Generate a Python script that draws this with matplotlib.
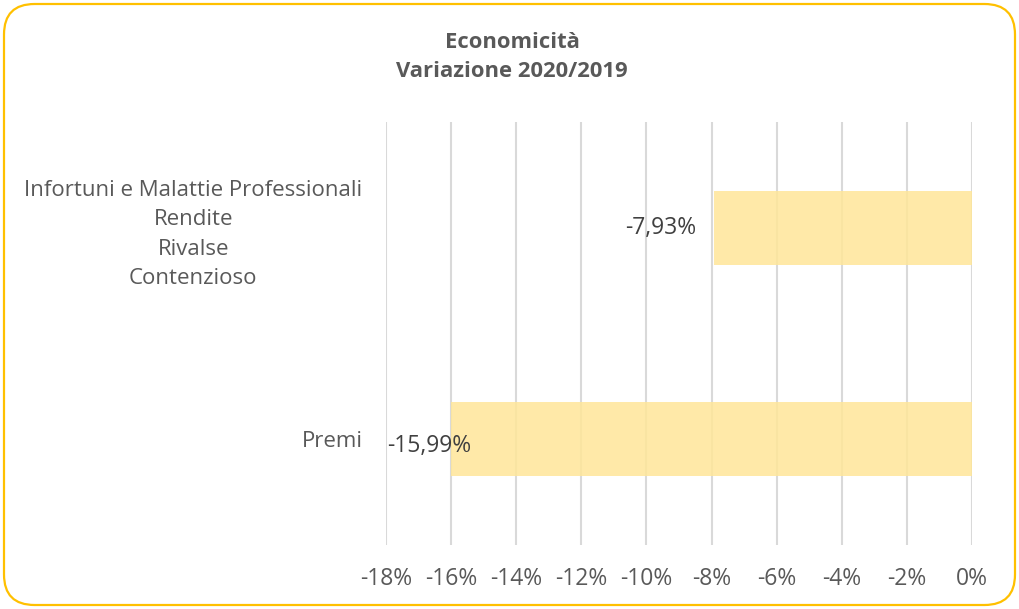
import matplotlib
matplotlib.use("Agg")
import matplotlib.pyplot as plt
from matplotlib.patches import FancyBboxPatch
from matplotlib.ticker import FuncFormatter

plt.rcParams['font.family'] = ['Open Sans', 'DejaVu Sans']

categories = ["Premi", "Infortuni e Malattie Professionali\nRendite\nRivalse\nContenzioso"]
values = [-15.99, -7.93]
labels = ["-15,99%", "-7,93%"]
xticks = [-18, -16, -14, -12, -10, -8, -6, -4, -2, 0]

W, H = 1019, 609
fig = plt.figure(figsize=(W / 100, H / 100), dpi=100)
ax = fig.add_axes([386 / W, 1 - 545 / H, (972 - 386) / W, (545 - 122) / H])

gray = "#595959"
ax.barh(range(len(categories)), values, height=0.35, color="#FFE699", alpha=0.85, zorder=3)
ax.set_xlim(-18, 0)
ax.set_ylim(-0.5, len(categories) - 0.5)
ax.set_xticks(xticks)
ax.xaxis.set_major_formatter(FuncFormatter(lambda v, p: f"{int(round(v))}%"))
ax.set_yticks(range(len(categories)))
ax.set_yticklabels(categories, multialignment="center", ha="right", linespacing=1.52)
ax.tick_params(axis="y", length=0, pad=17, labelsize=16, labelcolor=gray)
ax.tick_params(axis="x", length=0, pad=16, labelsize=16.5, labelcolor=gray)
for s in ax.spines.values():
    s.set_visible(False)
ax.grid(axis="x", color="#D9D9D9", linewidth=1.5, zorder=0)
ax.set_axisbelow(True)

for i, (v, lab) in enumerate(zip(values, labels)):
    if v - 2.8 < -18:
        ax.text(-17.98, i - 0.03, lab, ha="left", va="center", fontsize=16.5, color="#404040", zorder=5)
    else:
        ax.text(v - 0.55, i, lab, ha="right", va="center", fontsize=16.5, color="#404040", zorder=5)

fig.text(0.5025, 1 - 57 / H, "Economicità\nVariazione 2020/2019", ha="center", va="center",
         fontsize=15.8, fontweight="bold", color=gray, linespacing=1.55)

border = FancyBboxPatch((4 / W, 4 / H), (W - 8) / W, (H - 8) / H,
                        boxstyle="round,pad=0,rounding_size=0.03",
                        transform=fig.transFigure, facecolor="none", edgecolor="#FFC000",
                        linewidth=1.6, mutation_aspect=W / H)
fig.patches.append(border)

fig.savefig("out.png", dpi=100)
